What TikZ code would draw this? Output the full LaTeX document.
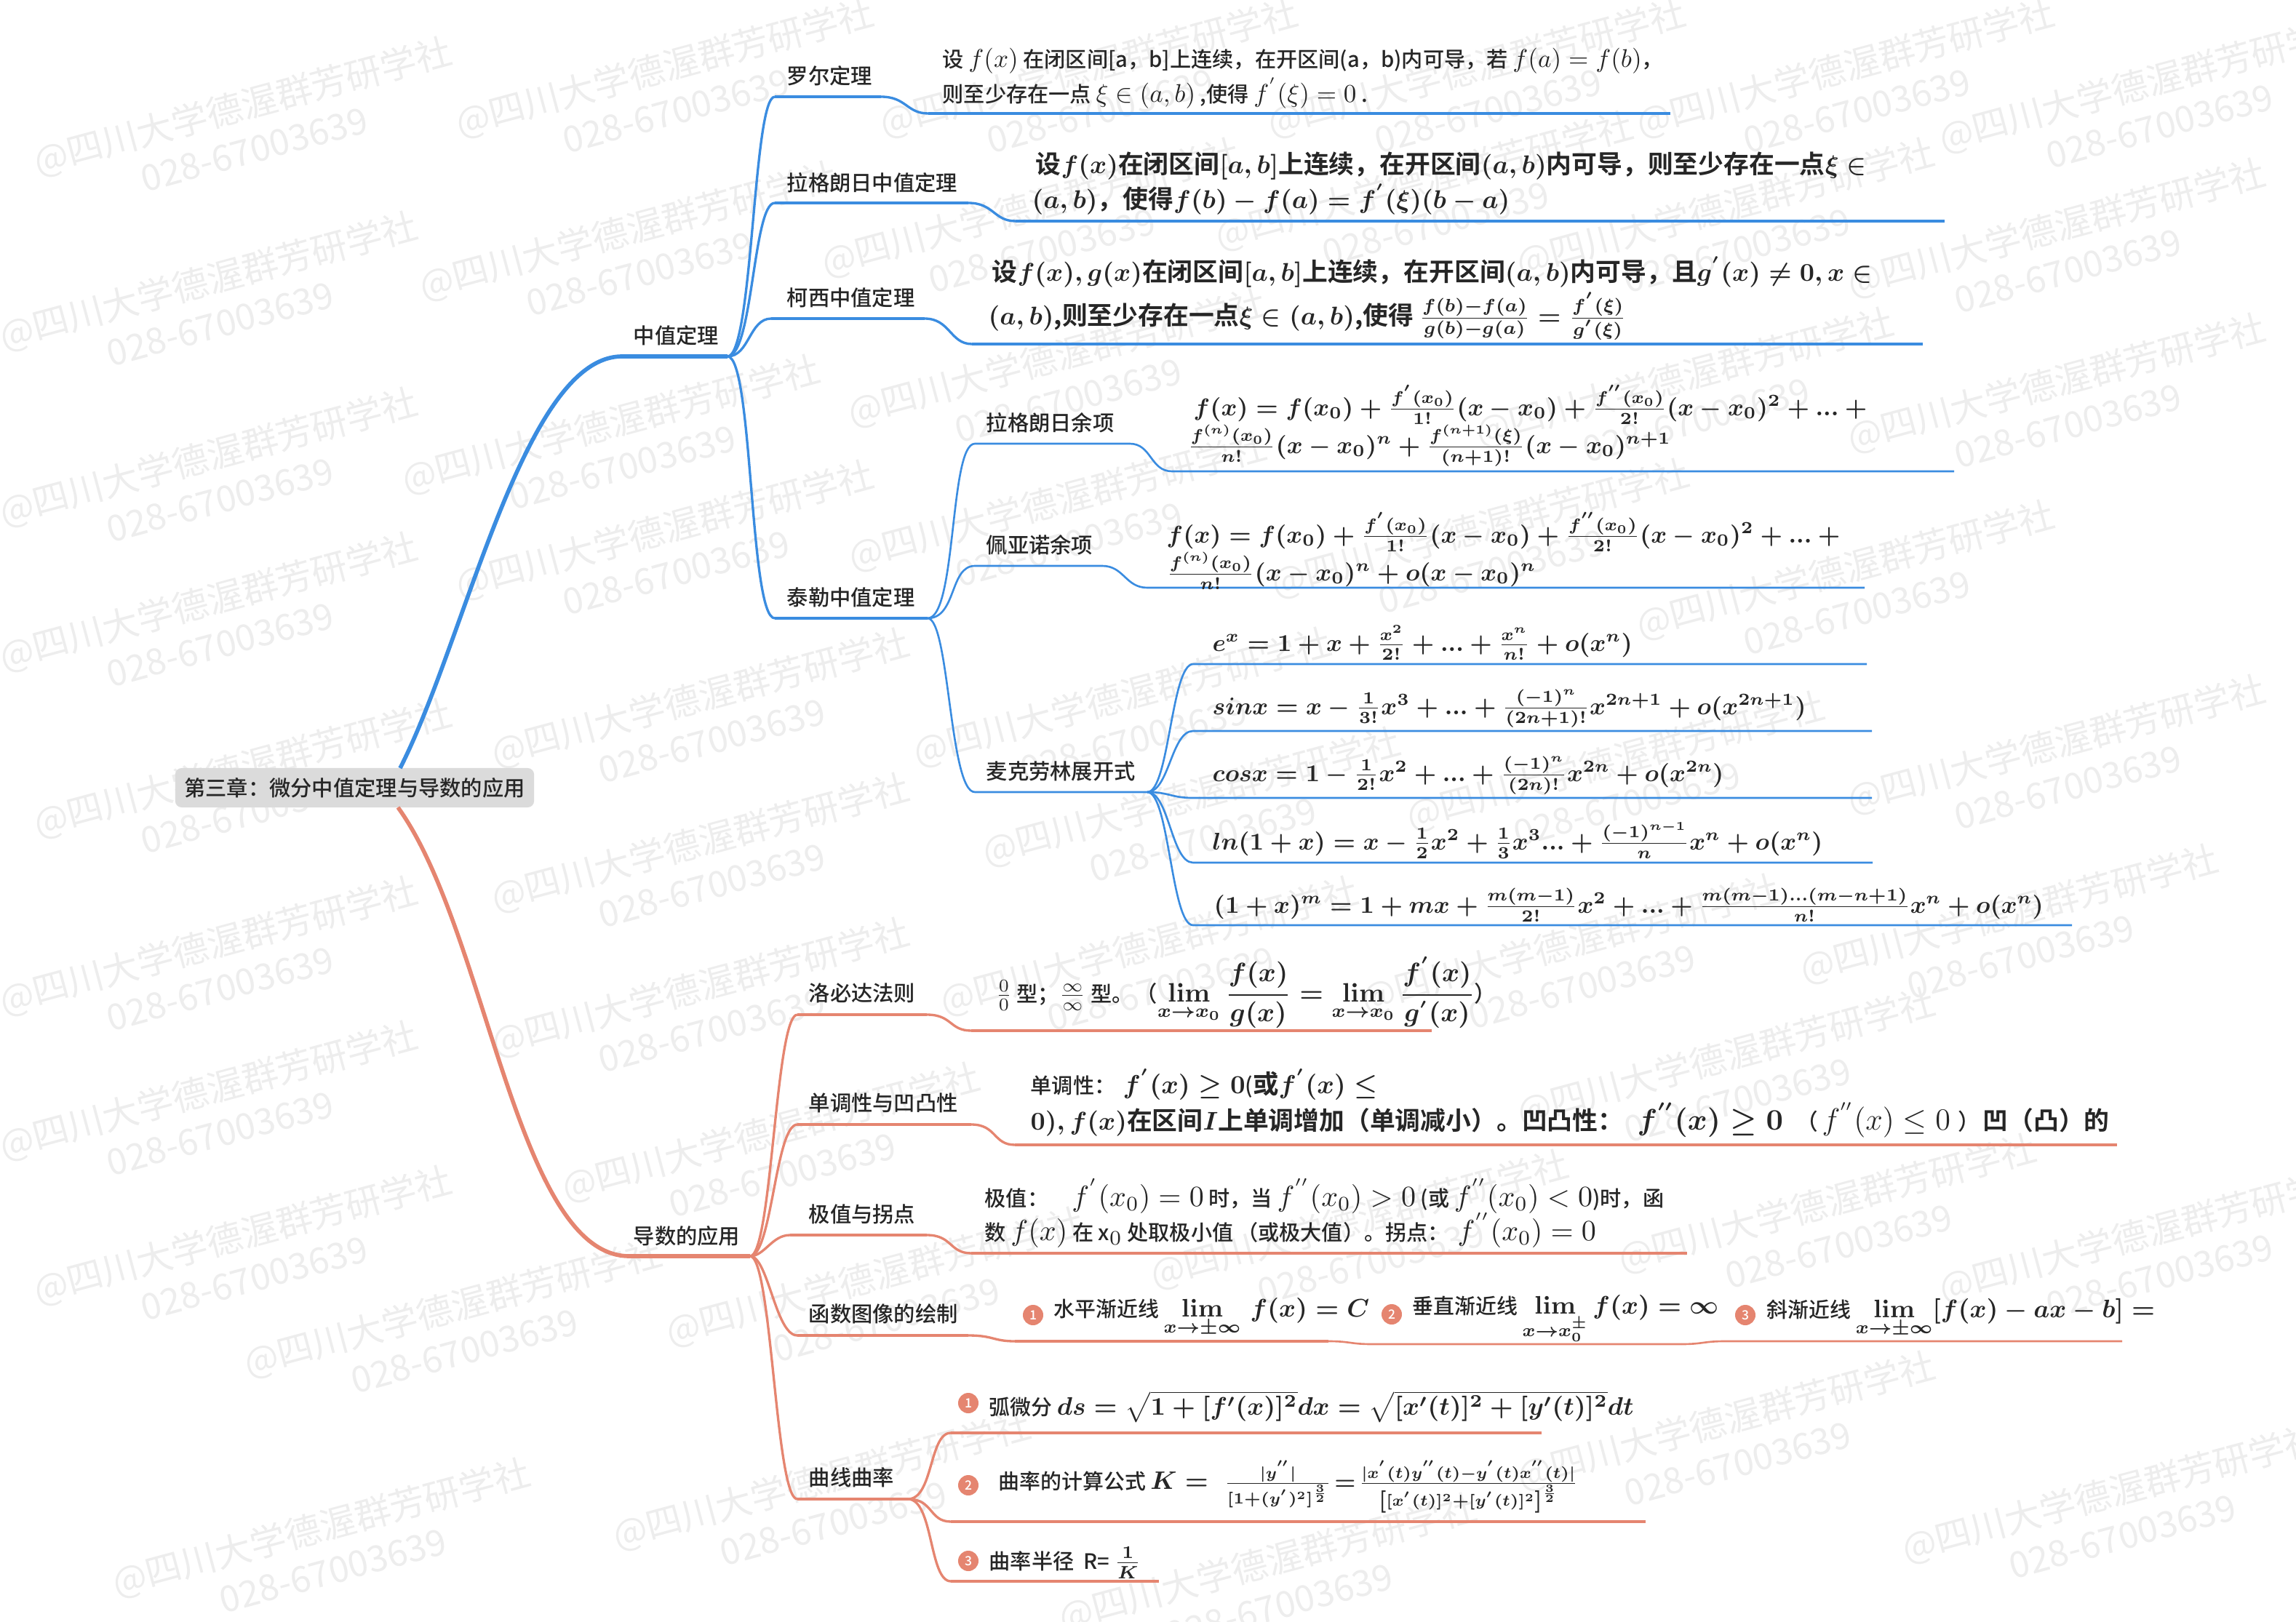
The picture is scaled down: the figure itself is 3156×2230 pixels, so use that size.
\documentclass[tikz,border=0pt]{standalone}
\usepackage{fix-cm}
\usepackage{amsmath}
\usepackage{amssymb}
\usepackage[no-math]{fontspec}
\usepackage{xcolor}
\setmainfont[Scale=0.83]{Noto Sans CJK SC Medium}
\newfontfamily\labelfont[Scale=0.85]{Noto Sans CJK SC Medium}
\newfontfamily\bigcjk[Scale=0.99]{Noto Sans CJK SC Medium}
\newfontfamily\boldcjk[Scale=0.99]{Noto Sans CJK SC Bold}
\newfontfamily\smallcjk[Scale=0.728]{Noto Sans CJK SC Medium}
\newfontfamily\markfont[Scale=0.85]{Noto Sans CJK SC}
\definecolor{mapblue}{HTML}{3A8CE0}
\definecolor{mapred}{HTML}{E58570}
\definecolor{markgray}{HTML}{EDEDED}
\tikzset{
  branchname/.style={anchor=base west,inner sep=0pt,text=black!85,font=\fontsize{9.8}{12}\selectfont\labelfont},
  plaintext/.style={anchor=base west,inner sep=0pt,text=black!85,font=\fontsize{10}{12}\selectfont},
  widetext/.style={anchor=base west,inner sep=0pt,text=black!85,font=\fontsize{11.4}{13}\selectfont\smallcjk},
  widebold/.style={anchor=base west,inner sep=0pt,text=black!85,font=\fontsize{9.9}{13}\selectfont\boldmath},
  fractext/.style={anchor=base west,inner sep=0pt,text=black!85,font=\fontsize{8.7}{12}\selectfont\boldmath},
  boldtext/.style={anchor=base west,inner sep=0pt,text=black!85,font=\fontsize{9.45}{12}\selectfont\boldmath},
  bigtext/.style={anchor=base west,inner sep=0pt,text=black!85,font=\fontsize{10}{14}\selectfont\boldcjk\boldmath},
  numdot/.style={circle,fill=mapred,text=white,inner sep=0pt,minimum size=.28cm,font=\fontsize{6}{7}\selectfont},
  mainline/.style={line width=1.6pt},
  midline/.style={line width=1.35pt},
  midcurve/.style={line width=.95pt},
  endline/.style={line width=1pt},
  thinline/.style={line width=.75pt},
  markblock/.style={text=markgray,rotate=15,align=center,inner sep=0pt,font=\fontsize{16.6}{17.5}\selectfont\markfont},
}
\begin{document}
\begin{tikzpicture}[x=.01cm,y=-.01cm]
  \useasboundingbox (0,0) rectangle (3156,2230);
  \clip (0,0) rectangle (3156,2230);

  % watermark
  \foreach \px/\py [count=\i] in {341/173,921/120,871/344,294/413,847/610,294/655,921/755,294/854,970/986,341/1083,1504/120,1424/312,1460/518,1461/716,1550/985,2544/120,2960/141,2037/120,2834/340,1965/275,2379/312,2834/553,2544/810,2323/545,2042/753,1645/1122,2228/1073,2834/1050,294/1327,294/1526,341/1725,630/1825,449/2127,970/1185,970/1384,1067/1583,1210/1782,1137/2062,1587/1327,1750/2175,2769/1283,2166/1324,2380/1480,2519/1681,2960/1722,2380/1980,2909/2080,1876/1703}
    \node[markblock] (mark\i) at (\px,\py) {@四川大学德渥群芳研学社\\028-67003639};

  % root
  \node[fill=black!14,rounded corners=2.5pt,minimum width=4.93cm,minimum height=.54cm,inner sep=0pt,text=black!85,font=\fontsize{9.8}{12}\selectfont\labelfont] (root) at (487.5,1083) {第三章：微分中值定理与导数的应用};
  \coordinate (rootup) at (550,1056);
  \coordinate (rootdown) at (547,1110);

  % first half
  \coordinate (midA) at (855,490);
  \coordinate (midB) at (1000,490);
  \coordinate (rolA) at (1065,133);
  \coordinate (rolB) at (1211,133);
  \coordinate (rolC) at (1276,156);
  \coordinate (rolD) at (2296,156);
  \coordinate (lagA) at (1065,279);
  \coordinate (lagB) at (1331,279);
  \coordinate (lagC) at (1396,304);
  \coordinate (lagD) at (2673,304);
  \coordinate (cauA) at (1060,438);
  \coordinate (cauB) at (1271,438);
  \coordinate (cauC) at (1336,473);
  \coordinate (cauD) at (2643,473);
  \coordinate (tayA) at (1065,850);
  \coordinate (tayB) at (1275,850);
  \coordinate (lreA) at (1340,610);
  \coordinate (lreB) at (1553,610);
  \coordinate (lreC) at (1611,648);
  \coordinate (lreD) at (2686,648);
  \coordinate (preA) at (1340,778);
  \coordinate (preB) at (1515,778);
  \coordinate (preC) at (1577,808);
  \coordinate (preD) at (2563,808);
  \coordinate (macA) at (1340,1089);
  \coordinate (macB) at (1577,1089);
  \coordinate (expA) at (1640,913);
  \coordinate (expB) at (2566,913);
  \coordinate (sinA) at (1640,1005);
  \coordinate (sinB) at (2573,1005);
  \coordinate (cosA) at (1640,1097);
  \coordinate (cosB) at (2573,1097);
  \coordinate (logA) at (1640,1186);
  \coordinate (logB) at (2574,1186);
  \coordinate (powA) at (1640,1272);
  \coordinate (powB) at (2848,1272);

  \begin{scope}[mapblue]
    \draw[mainline] (rootup) .. controls (640,880) and (720,490) .. (midA) -- (midB);
    \draw[midcurve] (midB) .. controls +(35,0) and +(-30,0) .. (rolA);
    \draw[midline] (rolA) -- (rolB);
    \draw[midcurve] (rolB) .. controls +(35,0) and +(-30,0) .. (rolC);
    \draw[endline] (rolC) -- (rolD);
    \draw[midcurve] (midB) .. controls +(35,0) and +(-30,0) .. (lagA);
    \draw[midline] (lagA) -- (lagB);
    \draw[midcurve] (lagB) .. controls +(35,0) and +(-30,0) .. (lagC);
    \draw[endline] (lagC) -- (lagD);
    \draw[midcurve] (midB) .. controls +(30,0) and +(-30,0) .. (cauA);
    \draw[midline] (cauA) -- (cauB);
    \draw[midcurve] (cauB) .. controls +(35,0) and +(-30,0) .. (cauC);
    \draw[endline] (cauC) -- (cauD);
    \draw[midcurve] (midB) .. controls +(35,0) and +(-35,0) .. (tayA);
    \draw[midline] (tayA) -- (tayB);
    \draw[thinline] (tayB) .. controls +(40,0) and +(-35,0) .. (lreA) -- (lreB);
    \draw[thinline] (lreB) .. controls +(30,0) and +(-30,0) .. (lreC) -- (lreD);
    \draw[thinline] (tayB) .. controls +(40,0) and +(-35,0) .. (preA) -- (preB);
    \draw[thinline] (preB) .. controls +(30,0) and +(-30,0) .. (preC) -- (preD);
    \draw[thinline] (tayB) .. controls +(30,0) and +(-35,0) .. (macA) -- (macB);
    \draw[thinline] (macB) .. controls +(30,0) and +(-30,0) .. (expA) -- (expB);
    \draw[thinline] (macB) .. controls +(30,0) and +(-30,0) .. (sinA) -- (sinB);
    \draw[thinline] (macB) .. controls +(30,0) and +(-30,0) .. (cosA) -- (cosB);
    \draw[thinline] (macB) .. controls +(30,0) and +(-30,0) .. (logA) -- (logB);
    \draw[thinline] (macB) .. controls +(30,0) and +(-30,0) .. (powA) -- (powB);
  \end{scope}

  % second half
  \coordinate (derA) at (865,1727);
  \coordinate (derB) at (1031,1727);
  \coordinate (lopA) at (1096,1395);
  \coordinate (lopB) at (1274,1395);
  \coordinate (lopC) at (1335,1417);
  \coordinate (lopD) at (1968,1417);
  \coordinate (monA) at (1096,1546);
  \coordinate (monB) at (1335,1546);
  \coordinate (monC) at (1395,1574);
  \coordinate (monD) at (2910,1574);
  \coordinate (extA) at (1086,1698);
  \coordinate (extB) at (1274,1698);
  \coordinate (extC) at (1335,1723);
  \coordinate (extD) at (2319,1723);
  \coordinate (graA) at (1096,1836);
  \coordinate (graB) at (1331,1836);
  \coordinate (graC) at (1395,1844);
  \coordinate (graD) at (1826,1844);
  \coordinate (graE) at (1886,1848);
  \coordinate (graF) at (2311,1848);
  \coordinate (graG) at (2371,1844);
  \coordinate (graH) at (2917,1844);
  \coordinate (curA) at (1096,2061);
  \coordinate (curB) at (1248,2061);
  \coordinate (arcA) at (1307,1970);
  \coordinate (arcB) at (2119,1970);
  \coordinate (kapA) at (1307,2092);
  \coordinate (kapB) at (2262,2092);
  \coordinate (radA) at (1307,2174);
  \coordinate (radB) at (1593,2174);

  \begin{scope}[mapred]
    \draw[mainline] (rootdown) .. controls (670,1280) and (710,1727) .. (derA) -- (derB);
    \draw[midcurve] (derB) .. controls +(30,0) and +(-30,0) .. (lopA);
    \draw[midline] (lopA) -- (lopB);
    \draw[midcurve] (lopB) .. controls +(35,0) and +(-30,0) .. (lopC);
    \draw[endline] (lopC) -- (lopD);
    \draw[midcurve] (derB) .. controls +(30,0) and +(-30,0) .. (monA);
    \draw[midline] (monA) -- (monB);
    \draw[midcurve] (monB) .. controls +(35,0) and +(-30,0) .. (monC);
    \draw[endline] (monC) -- (monD);
    \draw[midcurve] (derB) .. controls +(20,0) and +(-25,0) .. (extA);
    \draw[midline] (extA) -- (extB);
    \draw[midcurve] (extB) .. controls +(35,0) and +(-30,0) .. (extC);
    \draw[endline] (extC) -- (extD);
    \draw[midcurve] (derB) .. controls +(25,0) and +(-30,0) .. (graA);
    \draw[midline] (graA) -- (graB);
    \draw[midcurve] (graB) .. controls +(35,0) and +(-30,0) .. (graC);
    \draw[endline] (graC) -- (graD);
    \draw[thinline] (graD) .. controls +(30,0) and +(-30,0) .. (graE) -- (graF);
    \draw[thinline] (graF) .. controls +(30,0) and +(-30,0) .. (graG) -- (graH);
    \draw[midcurve] (derB) .. controls +(30,0) and +(-30,0) .. (curA);
    \draw[midline] (curA) -- (curB);
    \draw[midcurve] (curB) .. controls +(35,0) and +(-30,0) .. (arcA);
    \draw[endline] (arcA) -- (arcB);
    \draw[midcurve] (curB) .. controls +(35,0) and +(-30,0) .. (kapA);
    \draw[endline] (kapA) -- (kapB);
    \draw[midcurve] (curB) .. controls +(35,0) and +(-30,0) .. (radA);
    \draw[endline] (radA) -- (radB);
  \end{scope}

  % branch names
  \node[branchname] (mid) at (870,472) {中值定理};
  \node[branchname] (rol) at (1081,115) {罗尔定理};
  \node[branchname] (lag) at (1081,262) {拉格朗日中值定理};
  \node[branchname] (cau) at (1081,420) {柯西中值定理};
  \node[branchname] (tay) at (1081,832) {泰勒中值定理};
  \node[branchname] (lre) at (1355,592) {拉格朗日余项};
  \node[branchname] (pre) at (1355,760) {佩亚诺余项};
  \node[branchname] (mac) at (1355,1071) {麦克劳林展开式};
  \node[branchname] (der) at (870,1710) {导数的应用};
  \node[branchname] (lop) at (1111,1376) {洛必达法则};
  \node[branchname] (mon) at (1111,1527) {单调性与凹凸性};
  \node[branchname] (ext) at (1111,1680) {极值与拐点};
  \node[branchname] (gra) at (1111,1817) {函数图像的绘制};
  \node[branchname] (cur) at (1111,2042) {曲线曲率};

  % theorem text
  \node[plaintext] (rolone) at (1295,93) {设 $f(x)$ 在闭区间[a，b]上连续，在开区间(a，b)内可导，若 $f(a)=f(b)$，};
  \node[plaintext] (roltwo) at (1295,140) {则至少存在一点 $\xi\in(a,b)$ ,使得 $f^{'}(\xi)=0$ .};
  \node[bigtext] (lagone) at (1423,238) {设$f(x)$在闭区间$[a,b]$上连续，在开区间$(a,b)$内可导，则至少存在一点$\xi\in$};
  \node[bigtext] (lagtwo) at (1418,286) {$(a,b)$，使得$f(b)-f(a)=f^{'}(\xi)(b-a)$};
  \node[bigtext] (cauone) at (1363,386) {设$f(x),g(x)$在闭区间$[a,b]$上连续，在开区间$(a,b)$内可导，且$g^{'}(x)\neq 0,x\in$};
  \node[bigtext] (cautwo) at (1358,446) {$(a,b)$,则至少存在一点$\xi\in(a,b)$,使得 $\frac{f(b)-f(a)}{g(b)-g(a)}=\frac{f^{'}(\xi)}{g^{'}(\xi)}$};

  \node[boldtext] (lreone) at (1640,571) {$f(x)=f(x_0)+\frac{f^{'}(x_0)}{1!}(x-x_0)+\frac{f^{''}(x_0)}{2!}(x-x_0)^2+...+{}$};
  \node[boldtext] (lretwo) at (1632,623) {$\frac{f^{(n)}(x_0)}{n!}(x-x_0)^n+\frac{f^{(n+1)}(\xi)}{(n+1)!}(x-x_0)^{n+1}$};
  \node[boldtext] (preone) at (1603,746) {$f(x)=f(x_0)+\frac{f^{'}(x_0)}{1!}(x-x_0)+\frac{f^{''}(x_0)}{2!}(x-x_0)^2+...+{}$};
  \node[boldtext] (pretwo) at (1603,798) {$\frac{f^{(n)}(x_0)}{n!}(x-x_0)^n+o(x-x_0)^n$};
  \node[boldtext] (exp) at (1666,895) {$e^x=1+x+\frac{x^2}{2!}+...+\frac{x^n}{n!}+o(x^n)$};
  \node[boldtext] (sin) at (1666,982) {$sinx=x-\frac{1}{3!}x^3+...+\frac{(-1)^n}{(2n+1)!}x^{2n+1}+o(x^{2n+1})$};
  \node[boldtext] (cos) at (1666,1074) {$cosx=1-\frac{1}{2!}x^2+...+\frac{(-1)^n}{(2n)!}x^{2n}+o(x^{2n})$};
  \node[boldtext] (log) at (1666,1168) {$ln(1+x)=x-\frac{1}{2}x^2+\frac{1}{3}x^3...+\frac{(-1)^{n-1}}{n}x^n+o(x^n)$};
  \node[boldtext] (pow) at (1668,1255) {$(1+x)^m=1+mx+\frac{m(m-1)}{2!}x^2+...+\frac{m(m-1)...(m-n+1)}{n!}x^n+o(x^n)$};

  \node[plaintext] (lopone) at (1368,1377) {$\frac{0}{0}$ 型；$\frac{\infty}{\infty}$ 型。};
  \node[widebold,font=\fontsize{10.4}{13}\selectfont\boldmath] (loptwo) at (1560,1377) {（$\lim\limits_{x\to x_0}\dfrac{f(x)}{g(x)}=\lim\limits_{x\to x_0}\dfrac{f^{'}(x)}{g^{'}(x)}$）};
  \node[plaintext] (monone) at (1416,1503) {单调性：};
  \node[widebold,font=\fontsize{10.2}{13}\selectfont\boldmath] (monmath) at (1543,1503) {$f^{'}(x)\geq 0$({\boldcjk 或}$f^{'}(x)\leq$};
  \node[bigtext] (montwo) at (1416,1553) {$0),f(x)$在区间$I$上单调增加（单调减小）。凹凸性：};
  \node[widebold,font=\fontsize{11.6}{14}\selectfont\boldmath] (monthree) at (2250,1553) {$f^{''}(x)\geq 0$};
  \node[widetext,font=\fontsize{12}{14}\selectfont\smallcjk] (monfour) at (2468,1553) {（\,$f^{''}(x)\leq 0$\,\,）};
  \node[bigtext] (monfive) at (2725,1553) {凹（凸）的};
  \node[widetext] (extone) at (1353,1658) {极值：\hspace{.32cm}$f^{'}(x_0)=0$ 时，当 $f^{''}(x_0)>0$ (或 $f^{''}(x_0)<0$)时，函};
  \node[widetext] (exttwo) at (1353,1705) {数 $f(x)$ 在 x$_0$ 处取极小值\,（或极大值）。拐点：\, $f^{''}(x_0)=0$};

  \node[numdot] (graone) at (1420,1808) {1};
  \node[widebold] (gratxtone) at (1448,1810) {水平渐近线 $\lim\limits_{x\to\pm\infty}\ f(x)=C$};
  \node[numdot] (gratwo) at (1913,1807) {2};
  \node[widebold] (gratxttwo) at (1941,1806) {垂直渐近线 $\lim\limits_{x\to x_0^{\pm}}f(x)=\infty$};
  \node[numdot] (grathree) at (2399,1808) {3};
  \node[widebold] (gratxtthree) at (2428,1811) {斜渐近线 $\lim\limits_{x\to\pm\infty}[f(x)-ax-b]=$};

  \node[numdot] (arcdot) at (1331,1929) {1};
  \node[widebold] (arc) at (1359,1945) {弧微分 $ds=\sqrt{1+[f'(x)]^2}dx=\sqrt{[x'(t)]^2+[y'(t)]^2}dt$};
  \node[numdot] (kapdot) at (1331,2042) {2};
  \node[widebold] (kap) at (1372,2047) {曲率的计算公式 $K=$};
  \node[fractext] (kapfrac) at (1682,2047) {$\frac{|y^{''}|}{[1+(y^{'})^2]^{\frac{3}{2}}}\!=\!\frac{|x^{'}(t)y^{''}(t)-y^{'}(t)x^{''}(t)|}{\left[[x^{'}(t)]^2+[y^{'}(t)]^2\right]^{\frac{3}{2}}}$};
  \node[numdot] (raddot) at (1331,2146) {3};
  \node[plaintext] (rad) at (1359,2157) {曲率半径\ \ R= $\boldsymbol{\frac{1}{K}}$};
\end{tikzpicture}
\end{document}
